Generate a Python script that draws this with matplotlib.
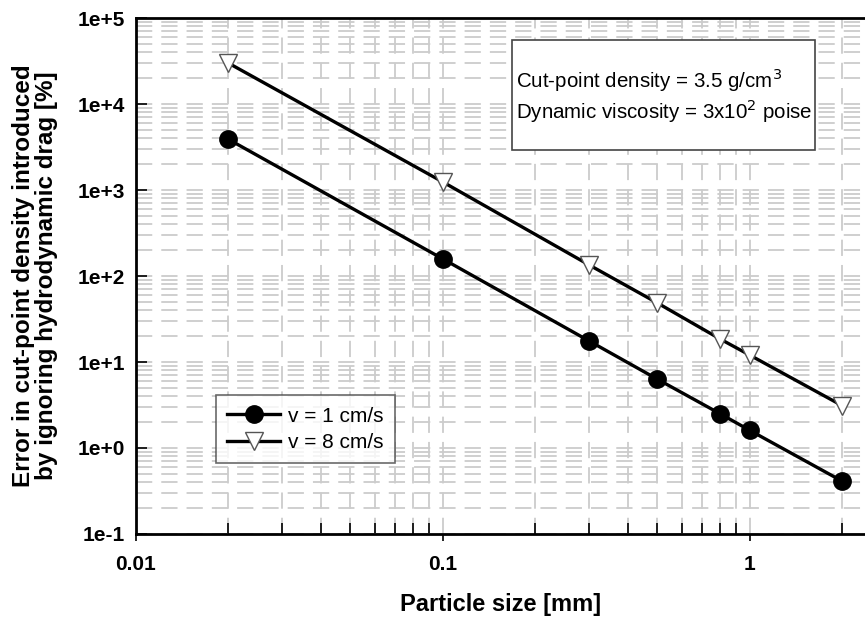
import numpy as np
import matplotlib.pyplot as plt
from matplotlib.patches import Rectangle
from matplotlib.ticker import LogLocator, FixedLocator, FixedFormatter, NullFormatter

plt.rcParams['font.family'] = ['Liberation Sans', 'DejaVu Sans']

# particle size [mm]
size_mm = [0.02, 0.1, 0.3, 0.5, 0.8, 1.0, 2.0]
# error [%]
err_v1 = [3900, 158, 17.5, 6.3, 2.5, 1.6, 0.41]
err_v8 = [30000, 1240, 134, 48.5, 18.5, 12.0, 3.1]

x_ticks = [0.01, 0.1, 1]
x_labels = ['0.01', '0.1', '1']
y_ticks = [1e-1, 1e0, 1e1, 1e2, 1e3, 1e4, 1e5]
y_labels = ['1e-1', '1e+0', '1e+1', '1e+2', '1e+3', '1e+4', '1e+5']


def plot():
    fig = plt.figure(figsize=(8.65, 6.22), dpi=100)
    ax = fig.add_axes([0.157, 0.1415, 0.843, 0.8295])
    ax.set_xscale('log')
    ax.set_yscale('log')
    ax.set_xlim(0.01, 2.37)
    ax.set_ylim(0.1, 1e5)

    gkw = dict(color='#cccccc', linewidth=1.3, linestyle=(0, (9, 5)))
    ax.grid(True, which='both', axis='both', **gkw)
    ax.set_axisbelow(True)

    ax.plot(size_mm, err_v1, color='black', linewidth=2.4, marker='o',
            markersize=12.5, markerfacecolor='black', label='v = 1 cm/s', zorder=3)
    ax.plot(size_mm, err_v8, color='black', linewidth=2.4, marker='v',
            markersize=13, markerfacecolor='white', markeredgecolor='#555555',
            markeredgewidth=1.0, label='v = 8 cm/s', zorder=3)

    ax.xaxis.set_major_locator(FixedLocator(x_ticks))
    ax.xaxis.set_major_formatter(FixedFormatter(x_labels))
    ax.xaxis.set_minor_locator(LogLocator(base=10, subs=np.arange(2, 10)))
    ax.xaxis.set_minor_formatter(NullFormatter())
    ax.yaxis.set_major_locator(FixedLocator(y_ticks))
    ax.yaxis.set_major_formatter(FixedFormatter(y_labels))
    ax.yaxis.set_minor_locator(LogLocator(base=10, subs=np.arange(2, 10)))
    ax.yaxis.set_minor_formatter(NullFormatter())

    ax.tick_params(axis='x', which='major', direction='out', length=5, width=1.2,
                   labelsize=15, pad=10)
    ax.tick_params(axis='x', which='minor', direction='in', length=8, width=1.2)
    ax.tick_params(axis='y', which='major', direction='in', length=8, width=1.2,
                   labelsize=15, pad=8)
    ax.tick_params(axis='y', which='minor', length=0)
    for lab in ax.get_xticklabels() + ax.get_yticklabels():
        lab.set_fontweight('bold')

    for s in ['left', 'top', 'bottom']:
        ax.spines[s].set_linewidth(2.0)
    ax.spines['right'].set_visible(False)

    ax.set_xlabel('Particle size [mm]', fontsize=17, fontweight='bold', labelpad=14)
    ax.set_ylabel('Error in cut-point density introduced\nby ignoring hydrodynamic drag [%]',
                  fontsize=17.5, fontweight='bold', labelpad=14, linespacing=1.0)

    leg = ax.legend(loc='lower left', bbox_to_anchor=(0.11, 0.137), fontsize=15,
                    frameon=True, fancybox=False, handlelength=2.5, borderpad=0.55,
                    labelspacing=0.35, handletextpad=0.4, borderaxespad=0)
    leg.get_frame().set_edgecolor('#444444')
    leg.get_frame().set_linewidth(1.2)

    box = Rectangle((0.516, 0.744), 0.415, 0.213, transform=ax.transAxes,
                    facecolor='white', edgecolor='#444444', linewidth=1.2, zorder=4)
    ax.add_patch(box)
    ax.text(0.521, 0.880, 'Cut-point density = 3.5 g/cm$^3$', transform=ax.transAxes,
            fontsize=14.8, va='center', ha='left', zorder=5)
    ax.text(0.521, 0.820, 'Dynamic viscosity = 3x10$^2$ poise', transform=ax.transAxes,
            fontsize=14.8, va='center', ha='left', zorder=5)

    fig.savefig('out.png', dpi=100)


def main():
    plot()


if __name__ == "__main__":
    main()
